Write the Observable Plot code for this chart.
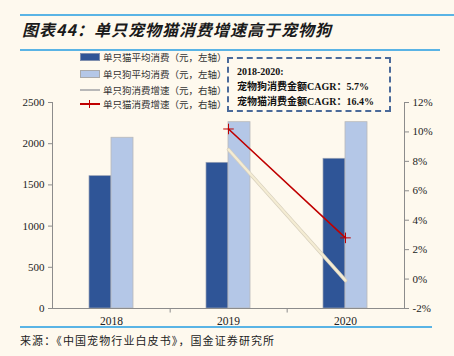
<!DOCTYPE html>
<html>
<head>
<meta charset="utf-8">
<script src="https://cdn.jsdelivr.net/npm/d3@7"></script>
<script src="https://cdn.jsdelivr.net/npm/@observablehq/plot@0.6"></script>
<style>
  html, body { margin: 0; padding: 0; background: #FEF9EE; }
  #wrap { position: relative; width: 454px; height: 356px; overflow: hidden; background: #FEF9EE; }
  #chart { position: absolute; left: 0; top: 0; }
  .abs { position: absolute; white-space: nowrap; color: #1a1a1a; }
  .title { left: 22px; top: 17px; font: italic bold 16px "Noto Sans CJK SC", sans-serif; letter-spacing: 1px; }
  .hline { position: absolute; height: 2px; background: #5AB4E5; }
  .legend { left: 80px; font: 9.5px "Noto Sans CJK SC", sans-serif; color: #333; }
  .legend .row { position: absolute; left: 0; height: 12px; display: flex; align-items: center; }
  .legend .sw { width: 20px; height: 8px; margin-right: 3px; box-sizing: border-box; position: relative; }
  .box { left: 227px; top: 57px; width: 164px; height: 55px; box-sizing: border-box; border: 2px dashed #4A6A9A; font: bold 10px "Liberation Serif", "Noto Sans CJK SC", serif; color: #111; padding: 5px 0 0 8px; line-height: 15px; }
  .source { left: 20px; top: 332px; font: 11px "Noto Sans CJK SC", sans-serif; color: #222; letter-spacing: 1.1px; }
</style>
</head>
<body>
<div id="wrap">
  <div id="chart"></div>
  <div class="hline" style="left:20px; top:14px; width:434px;"></div>
  <div class="hline" style="left:20px; top:49px; width:420px;"></div>
  <div class="abs title">图表44：单只宠物猫消费增速高于宠物狗</div>
  <div class="abs legend" id="legend"></div>
  <div class="abs box" id="box"></div>
  <div class="hline" style="left:20px; top:326px; width:412px;"></div>
  <div class="abs source">来源：《中国宠物行业白皮书》，国金证券研究所</div>
</div>
<script>
// ---- data ----
const years = ["2018", "2019", "2020"];
const catSpend = [1606, 1768, 1817];      // 单只猫平均消费（元，左轴）
const dogSpend = [2072, 2261, 2261];      // 单只狗平均消费（元，左轴）
const dogGrowthYears = ["2019", "2020"];
const dogGrowth = [8.8, -0.1];            // 单只狗消费增速（%，右轴）
const catGrowth = [10.2, 2.8];            // 单只猫消费增速（%，右轴）
const leftTicks = [0, 500, 1000, 1500, 2000, 2500];
const rightTicks = [-2, 0, 2, 4, 6, 8, 10, 12];
const legendLabels = ["单只猫平均消费（元，左轴）", "单只狗平均消费（元，左轴）", "单只狗消费增速（元，右轴）", "单只猫消费增速（元，右轴）"];
const boxLines = ["2018-2020:", "宠物狗消费金额CAGR：5.7%", "宠物猫消费金额CAGR：16.4%"];

const colors = { cat: "#2F5597", dog: "#B4C7E7", dogLine: "#F4ECD3", catLine: "#C00000" };

// right axis (percent) mapped onto left scale
const yMax = 2500, pMin = -2, pMax = 12;
const toLeft = p => (p - pMin) / (pMax - pMin) * yMax;
const toPct = v => Math.round(v / yMax * (pMax - pMin) + pMin);

const catRows = years.map((y, i) => ({ year: y, v: catSpend[i] }));
const dogRows = years.map((y, i) => ({ year: y, v: dogSpend[i] }));
const dogG = dogGrowthYears.map((y, i) => ({ year: y, v: toLeft(dogGrowth[i]) }));
const catG = dogGrowthYears.map((y, i) => ({ year: y, v: toLeft(catGrowth[i]) }));

const W = 454, H = 356, mL = 52, mR = 50, mT = 102, mB = 48;
const step = (W - mL - mR) / years.length;
const bw = step * 0.1875;

const serif = "Liberation Serif, Times New Roman, serif";

const plot = Plot.plot({
  width: W, height: H,
  marginLeft: mL, marginRight: mR, marginTop: mT, marginBottom: mB,
  style: { background: "transparent", fontFamily: serif, fontSize: "11px", color: "#222" },
  x: { type: "band", domain: years, paddingInner: 0.8125, paddingOuter: 0.40625, label: null },
  y: { domain: [0, yMax], label: null },
  marks: [
    Plot.barY(catRows, { x: "year", y: "v", fill: colors.cat, stroke: "#9aa3b5", strokeWidth: 0.7, dx: -bw / 2 }),
    Plot.barY(dogRows, { x: "year", y: "v", fill: colors.dog, stroke: "#b9b9b9", strokeWidth: 0.8, dx: bw / 2 }),
    Plot.frame({ anchor: "left", stroke: "#8c8c8c" }),
    Plot.frame({ anchor: "right", stroke: "#8c8c8c" }),
    Plot.ruleY([0], { stroke: "#8c8c8c" }),
    Plot.ruleX(years.slice(0, 2), { x: d => d, y1: 0, y2: -55, dx: step / 2, stroke: "#8c8c8c" }),
    Plot.axisY({ anchor: "left", ticks: leftTicks, tickSize: 4, tickPadding: 4, stroke: "#8c8c8c", fontSize: 11, tickFormat: d => String(d) }),
    Plot.axisY({ anchor: "right", ticks: rightTicks.map(toLeft), tickSize: 4, tickPadding: 4, stroke: "#8c8c8c", fontSize: 11, tickFormat: d => toPct(d) + "%" }),
    Plot.axisX({ tickSize: 0, tickPadding: 8, fontSize: 11.5 }),
    Plot.line(dogG, { x: "year", y: "v", stroke: "#d8d0bd", strokeWidth: 3.6 }),
    Plot.line(dogG, { x: "year", y: "v", stroke: colors.dogLine, strokeWidth: 2.2 }),
    Plot.line(catG, { x: "year", y: "v", stroke: colors.catLine, strokeWidth: 1.6 }),
    Plot.dot(catG, { x: "year", y: "v", symbol: "plus", stroke: colors.catLine, r: 3.5, strokeWidth: 1 })
  ]
});
document.getElementById("chart").appendChild(plot);

// legend
const legend = document.getElementById("legend");
legend.style.top = "51px";
const swatches = [
  s => { s.style.background = colors.cat; s.style.border = "1px solid #7f8fae"; },
  s => { s.style.background = colors.dog; s.style.border = "1px solid #a9a9a9"; },
  s => { s.style.height = "2px"; s.style.background = "#b8b8b8"; },
  s => { s.style.height = "2px"; s.style.background = colors.catLine;
         const v = document.createElement("div");
         v.style.cssText = "position:absolute;left:9px;top:-3px;width:1px;height:8px;background:" + colors.catLine;
         s.appendChild(v); }
];
const rowTops = [0, 17, 33, 47];
legendLabels.forEach((t, i) => {
  const row = document.createElement("div");
  row.className = "row";
  row.style.top = rowTops[i] + "px";
  const sw = document.createElement("div");
  sw.className = "sw";
  swatches[i](sw);
  const tx = document.createElement("span");
  tx.textContent = t;
  row.appendChild(sw); row.appendChild(tx);
  legend.appendChild(row);
});

// CAGR box
const box = document.getElementById("box");
boxLines.forEach(t => { const d = document.createElement("div"); d.textContent = t; box.appendChild(d); });
</script>
</body>
</html>
